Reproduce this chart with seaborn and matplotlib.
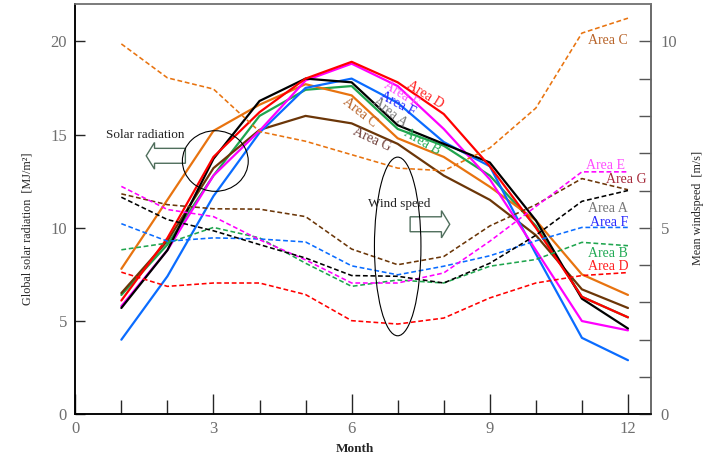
import matplotlib
matplotlib.use("Agg")
import matplotlib.pyplot as plt
import numpy as np
import pandas as pd
import seaborn as sns
from matplotlib.patches import Ellipse, FancyArrow

# ---------------- data ----------------
months = list(range(1, 13))
areas = ["Area A", "Area B", "Area C", "Area D", "Area E", "Area F", "Area G"]

# Global solar radiation [MJ/m2] (left axis, solid lines)
solar_A = [5.7, 8.8, 13.7, 16.8, 18.0, 17.8, 15.5, 14.5, 13.5, 10.4, 6.2, 4.6]
solar_B = [6.4, 9.1, 12.8, 16.0, 17.4, 17.6, 15.3, 14.4, 12.8, 10.1, 6.3, 5.2]
solar_C = [7.8, 11.5, 15.2, 16.6, 17.7, 17.1, 14.8, 13.8, 12.2, 10.4, 7.5, 6.4]
solar_D = [6.1, 9.45, 13.8, 16.2, 18.0, 18.9, 17.8, 16.1, 13.3, 10.0, 6.3, 5.2]
solar_E = [5.8, 8.8, 12.8, 15.2, 17.9, 18.8, 17.6, 15.3, 12.6, 8.8, 5.0, 4.5]
solar_F = [4.0, 7.4, 11.7, 15.1, 17.5, 18.0, 16.7, 14.6, 13.3, 8.6, 4.1, 2.9]
solar_G = [6.5, 9.3, 13.2, 15.25, 16.0, 15.6, 14.5, 12.8, 11.5, 9.6, 6.7, 5.7]

# Mean wind speed [m/s] (right axis, dashed lines)
wind_A = [5.82, 5.22, 4.92, 4.55, 4.19, 3.72, 3.70, 3.52, 4.05, 4.80, 5.71, 6.00]
wind_B = [4.41, 4.59, 5.01, 4.73, 4.05, 3.43, 3.60, 3.52, 3.97, 4.15, 4.61, 4.52]
wind_C = [9.93, 9.02, 8.72, 7.58, 7.32, 6.96, 6.60, 6.53, 7.14, 8.21, 10.22, 10.62]
wind_D = [3.81, 3.43, 3.52, 3.52, 3.21, 2.51, 2.42, 2.58, 3.12, 3.52, 3.72, 3.80]
wind_E = [6.11, 5.49, 5.30, 4.68, 4.14, 3.52, 3.52, 3.79, 4.64, 5.57, 6.50, 6.50]
wind_F = [5.11, 4.64, 4.73, 4.70, 4.62, 3.98, 3.74, 3.97, 4.25, 4.65, 5.01, 5.01]
wind_G = [5.91, 5.62, 5.51, 5.50, 5.30, 4.43, 4.01, 4.23, 5.05, 5.62, 6.32, 6.02]

x_ticks = [0, 3, 6, 9, 12]
y_ticks_left = [0, 5, 10, 15, 20]
y_ticks_right = [0, 5, 10]

solar = dict(zip(areas, [solar_A, solar_B, solar_C, solar_D, solar_E, solar_F, solar_G]))
wind = dict(zip(areas, [wind_A, wind_B, wind_C, wind_D, wind_E, wind_F, wind_G]))

colors = {
    "Area A": "#000000",
    "Area B": "#1fa54e",
    "Area C": "#e8730f",
    "Area D": "#ff0000",
    "Area E": "#ff00ff",
    "Area F": "#0a6cff",
    "Area G": "#6b3608",
}
draw_order = ["Area B", "Area C", "Area G", "Area F", "Area E", "Area A", "Area D"]

solar_df = pd.DataFrame([(a, m, v) for a in areas for m, v in zip(months, solar[a])],
                        columns=["Area", "Month", "Solar"])
wind_df = pd.DataFrame([(a, m, v) for a in areas for m, v in zip(months, wind[a])],
                       columns=["Area", "Month", "Wind"])

# ---------------- style ----------------
sns.set_style("ticks")
plt.rcParams["font.family"] = ["Liberation Serif", "DejaVu Serif"]

W, H = 711, 462
fig = plt.figure(figsize=(W / 100, H / 100), dpi=100)
L, R, T, B = 75.3, 651.0, 4.0, 414.3
ax = fig.add_axes([L / W, 1 - B / H, (R - L) / W, (B - T) / H])
ax2 = ax.twinx()

sns.lineplot(data=solar_df, x="Month", y="Solar", hue="Area", hue_order=draw_order,
             palette=colors, linewidth=1.6, errorbar=None, legend=False, ax=ax)
sns.lineplot(data=wind_df, x="Month", y="Wind", hue="Area", hue_order=draw_order,
             palette=colors, linewidth=1.15, errorbar=None, legend=False, ax=ax2)
for ln in ax2.lines:
    ln.set_dashes([3.0, 1.7])

ax.set_xlim(0, 12.5)
ax.set_ylim(0, 22)
ax2.set_ylim(0, 11)
ax.set_xlabel("")
ax.set_ylabel("")
ax2.set_ylabel("")

gray = "#6e6e6e"
ax.set_xticks(x_ticks)
ax.set_xticks(months, minor=True)
ax.set_yticks(y_ticks_left)
ax.set_yticks([], minor=True)
ax.tick_params(axis="x", which="major", direction="in", length=14.5, width=1.0,
               labelsize=12, labelcolor=gray, pad=5)
ax.tick_params(axis="x", which="minor", direction="in", length=10, width=1.0)
ax.tick_params(axis="y", which="major", direction="in", length=7.2, width=1.0,
               labelsize=12, labelcolor=gray, pad=6)
ax2.set_yticks(y_ticks_right)
ax2.set_yticks(list(range(0, 11)), minor=True)
ax2.tick_params(axis="y", which="both", direction="in", length=8.6, width=1.0,
                color="#555555", labelsize=12, labelcolor=gray, pad=7)

for a in (ax, ax2):
    a.spines["left"].set_color("black")
    a.spines["bottom"].set_color("black")
    a.spines["top"].set_color("#777777")
    a.spines["right"].set_color("#666666")
    for s in a.spines.values():
        s.set_linewidth(1.1)
    a.spines["top"].set_visible(True)
    a.spines["right"].set_visible(True)

# ---------------- axis titles ----------------
fig.text(355 / W, 1 - 449 / H, "Month", ha="center", va="center",
         fontsize=9.5, fontweight="bold")
fig.text(27.5 / W, 1 - 229 / H, "Global solar radiation  [MJ/m\u00b2]", rotation=90,
         ha="center", va="center", fontsize=8.7)
fig.text(697.5 / W, 1 - 208 / H, "Mean windspeed  [m/s]", rotation=90,
         ha="center", va="center", fontsize=8.7)

# ---------------- annotations (in left-axis data coords) ----------------
tr = ax.transData
lab_fs = 10

right_labels = [
    ("Area C", 12.0, 20.03, "#b8642a"),
    ("Area E", 11.94, 13.34, "#ff4dff"),
    ("Area G", 12.41, 12.57, "#a52a3a"),
    ("Area A", 12.0, 11.06, "#777777"),
    ("Area F", 12.0, 10.28, "#2a2aff"),
    ("Area B", 12.0, 8.61, "#22aa55"),
    ("Area D", 12.02, 7.93, "#ff2020"),
]
for txt, xx, yy, c in right_labels:
    ax2.text(xx, yy, txt, transform=tr, ha="right", va="center", fontsize=lab_fs,
             color=c, zorder=10)

mid_labels = [
    ("Area D", 7.60, 17.13, -32, "#ff2020"),
    ("Area E", 7.07, 17.18, -32, "#ff4dff"),
    ("Area F", 7.00, 16.65, -28, "#2a2aff"),
    ("Area A", 6.82, 16.20, -38, "#777777"),
    ("Area B", 7.53, 14.63, -30, "#22aa55"),
    ("Area C", 6.17, 16.20, -38, "#b8642a"),
    ("Area G", 6.44, 14.72, -25, "#70403a"),
]
for txt, xx, yy, rot, c in mid_labels:
    ax2.text(xx, yy, txt, transform=tr, ha="center", va="center", fontsize=lab_fs,
             color=c, rotation=rot, rotation_mode="anchor", zorder=10)

ax2.text(1.52, 15.0, "Solar radiation", transform=tr, ha="center", va="center",
         fontsize=9.5, color="#222222", zorder=10)
ax2.text(7.03, 11.27, "Wind speed", transform=tr, ha="center", va="center",
         fontsize=9.5, color="#222222", zorder=10)

arrow_kw = dict(length_includes_head=True, facecolor="white", edgecolor="#4f6e5c",
                linewidth=1.0, zorder=9, transform=tr)
ax2.add_patch(FancyArrow(2.39, 13.86, -0.85, 0, width=0.80, head_width=1.43,
                         head_length=0.18, **arrow_kw))
ax2.add_patch(FancyArrow(7.27, 10.19, 0.86, 0, width=0.80, head_width=1.46,
                         head_length=0.18, **arrow_kw))

ax2.add_patch(Ellipse((3.04, 13.58), 1.43, 3.25, facecolor="none", edgecolor="black",
                      linewidth=0.8, transform=tr, zorder=9))
ax2.add_patch(Ellipse((7.0, 9.0), 1.01, 9.58, facecolor="none", edgecolor="black",
                      linewidth=0.8, transform=tr, zorder=9))

ax.set_xlim(0, 12.5)
ax.set_ylim(0, 22)
ax2.set_ylim(0, 11)

fig.savefig("out.png", dpi=100)
